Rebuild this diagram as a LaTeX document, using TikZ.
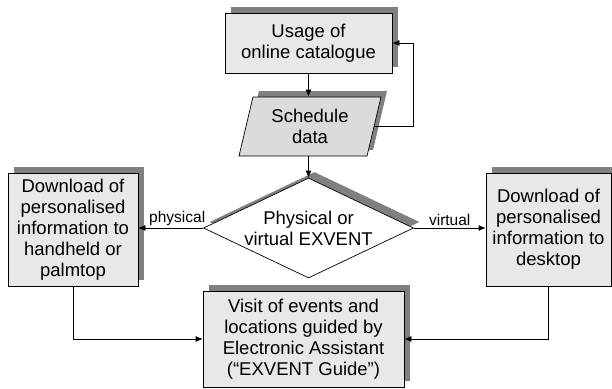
\documentclass[tikz,border=0pt]{standalone}
\usepackage{fontspec}
\setmainfont{Liberation Sans}
\usetikzlibrary{arrows.meta,%
		shadows,%
		shapes,%
		shapes.geometric}

\tikzset{%
	blocco/.style={draw, fill=black!9, align=center, inner sep=0pt, line width=.7pt,
		font=\fontsize{18.5}{21}\selectfont,
		general shadow={fill=black!50, shadow xshift=6pt, shadow yshift=6pt}},
	dati/.style={blocco, trapezium, trapezium left angle=68, trapezium right angle=112,
		trapezium stretches body, fill=black!14},
	scelta/.style={blocco, diamond, aspect=2.1, fill=white},
	freccia/.style={-{Latex[length=7pt,width=6pt]}, line width=.7pt},
	etichetta/.style={font=\fontsize{15.5}{18}\selectfont, inner sep=2pt}
}

\begin{document}
\begin{tikzpicture}[x=1pt,y=-1pt]
\useasboundingbox (0,0) rectangle (612,388);
%blocchi
\node[blocco, minimum width=167pt, minimum height=60pt] (U) at (308.5,43) {Usage of\\online catalogue};
\node[dati, minimum width=142pt, minimum height=59pt] (S) at (310,126.5) {Schedule\\data};
\node[scelta, minimum width=210pt, minimum height=100pt] (V) at (308.5,228) {Physical or\\virtual EXVENT};
\node[blocco, minimum width=130pt, minimum height=113pt] (L) at (73,229.5) {Download of\\personalised\\information to\\handheld or\\palmtop};
\node[blocco, minimum width=125pt, minimum height=113pt] (R) at (548.5,229.5) {Download of\\personalised\\information to\\desktop};
\node[blocco, minimum width=201pt, minimum height=96pt] (G) at (303.5,339) {Visit of events and\\locations guided by\\Electronic Assistant\\(“EXVENT Guide”)};
%frecce
\draw[freccia] (U.south) -- (U.south |- S.north);
\draw[freccia] (S.south -| V.north) -- (V.north);
\draw[freccia] (S.east) -- ++(39,0) |- (U.east);
\draw[freccia] (V.west) -- (V.west -| L.east) node[etichetta, above, pos=.4] {physical};
\draw[freccia] (V.east) -- (V.east -| R.west) node[etichetta, above, pos=.5] {virtual};
\draw[freccia] (L.south) |- (G.west);
\draw[freccia] (R.south) |- (G.east);
\end{tikzpicture}
\end{document}
